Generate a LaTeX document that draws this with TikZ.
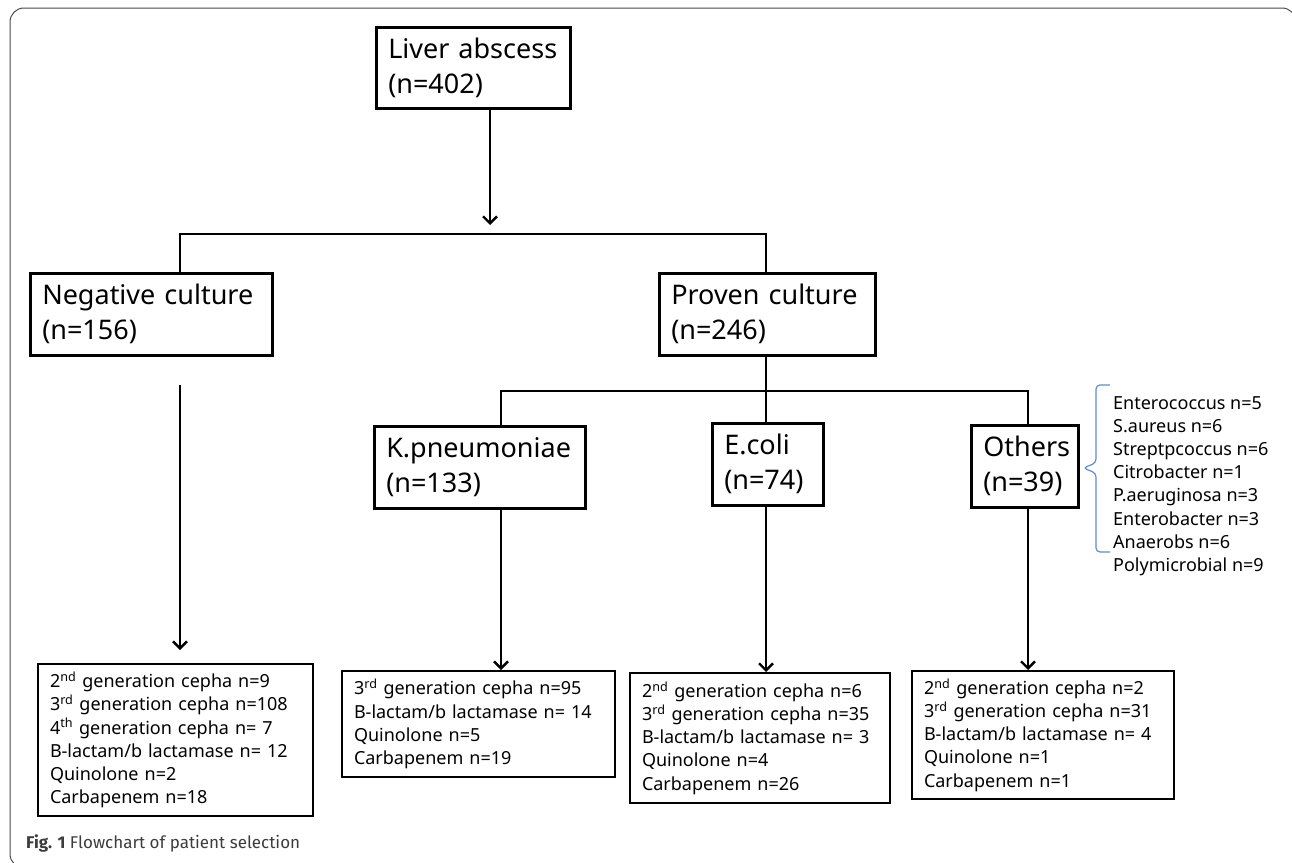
\documentclass[tikz,border=0pt]{standalone}
\usepackage{fontspec}
\setmainfont{Noto Sans}
\newfontfamily\capfont{Fira Sans}
\usetikzlibrary{arrows.meta}
\definecolor{bracecol}{HTML}{5B8ED6}
\definecolor{framecol}{HTML}{4A4A4A}
\definecolor{capcol}{HTML}{3C3C3C}

\begin{document}
\begin{tikzpicture}[x=1pt, y=-1pt,
	bigbox/.style={draw, line width=2.5pt, anchor=north west, align=left, inner xsep=12pt, inner ysep=0pt, font=\fontsize{27}{35}\selectfont},
	listbox/.style={draw, line width=2pt, anchor=north west, align=left, inner xsep=12pt, inner ysep=0pt, font=\fontsize{18}{23.2}\selectfont},
	link/.style={line width=1.6pt},
	arr/.style={line width=2.4pt, -{Straight Barb[length=7pt,width=14pt]}}]
\useasboundingbox (0,0) rectangle (1292,862);
%frame
	\draw[framecol, line width=1pt, rounded corners=14pt] (10,8) rectangle (1296,868);

%boxes
	\node[bigbox, text width=170pt, minimum height=81pt] (liver) at (375,26) {Liver abscess\\(n=402)};
	\node[bigbox, text width=218pt, minimum height=82pt] (neg) at (29,272) {Negative culture\\(n=156)};
	\node[bigbox, text width=192pt, minimum height=82pt] (proven) at (658,272) {Proven culture\\(n=246)};
	\node[bigbox, text width=187pt, minimum height=82pt] (kp) at (373,425) {K.pneumoniae\\(n=133)};
	\node[bigbox, text width=87pt, minimum height=82pt] (ecoli) at (711,422) {E.coli\\(n=74)};
	\node[bigbox, text width=83pt, minimum height=82pt] (others) at (970,424) {Others\\(n=39)};

%lists
	\node[listbox, text width=251pt, minimum height=152pt] (neglist) at (37,663) {2\textsuperscript{nd} generation cepha n=9\\3\textsuperscript{rd} generation cepha n=108\\4\textsuperscript{th} generation cepha n= 7\\B-lactam/b lactamase n= 12\\Quinolone n=2\\Carbapenem n=18};
	\node[listbox, text width=249pt, minimum height=106pt] (kplist) at (341,670) {3\textsuperscript{rd} generation cepha n=95\\B-lactam/b lactamase n= 14\\Quinolone n=5\\Carbapenem n=19};
	\node[listbox, text width=236pt, minimum height=130pt] (ecolilist) at (629,672) {2\textsuperscript{nd} generation cepha n=6\\3\textsuperscript{rd} generation cepha n=35\\B-lactam/b lactamase n= 3\\Quinolone n=4\\Carbapenem n=26};
	\node[listbox, text width=238pt, minimum height=128pt] (otherslist) at (911,670) {2\textsuperscript{nd} generation cepha n=2\\3\textsuperscript{rd} generation cepha n=31\\B-lactam/b lactamase n= 4\\Quinolone n=1\\Carbapenem n=1};

	\node[anchor=west, align=left, inner sep=0pt, font=\fontsize{18}{23.2}\selectfont] (othersinfo) at (1113,486) {Enterococcus n=5\\S.aureus n=6\\Streptpcoccus n=6\\Citrobacter n=1\\P.aeruginosa n=3\\Enterobacter n=3\\Anaerobs n=6\\Polymicrobial n=9};
	\draw[bracecol, line width=1.2pt, rounded corners=4pt] (1110,385) -- (1096,385) -- (1096,463) -- (1083,468) -- (1096,473) -- (1096,552) -- (1110,552);

%links
	\coordinate (tip1) at (490,225);
	\coordinate (topl) at (180,234);
	\coordinate (topr) at (766,234);
	\draw[arr] (liver.south -| tip1) -- (tip1);
	\draw[link] (neg.north -| topl) -- (topl) -- (topr) -- (proven.north -| topr);

	\coordinate (midl) at (501,391);
	\coordinate (midm) at (766,391);
	\coordinate (midr) at (1028,391);
	\draw[link] (proven.south -| midm) -- (ecoli.north -| midm);
	\draw[link] (kp.north -| midl) -- (midl) -- (midr) -- (others.north -| midr);

	\coordinate (negstart) at (180,385);
	\coordinate (negtip) at (180,650);
	\draw[arr] (negstart) -- (negtip);
	\foreach \name/\c in {kp/midl, ecoli/midm, others/midr}{
		\draw[arr] (\name.south -| \c) -- (\name list.north -| \c);
	}

%caption
	\node[anchor=base west, inner sep=0pt, text=capcol, font=\capfont\fontsize{17}{20}\selectfont] (caption) at (26,848) {\textbf{Fig. 1} Flowchart of patient selection};
\end{tikzpicture}
\end{document}
